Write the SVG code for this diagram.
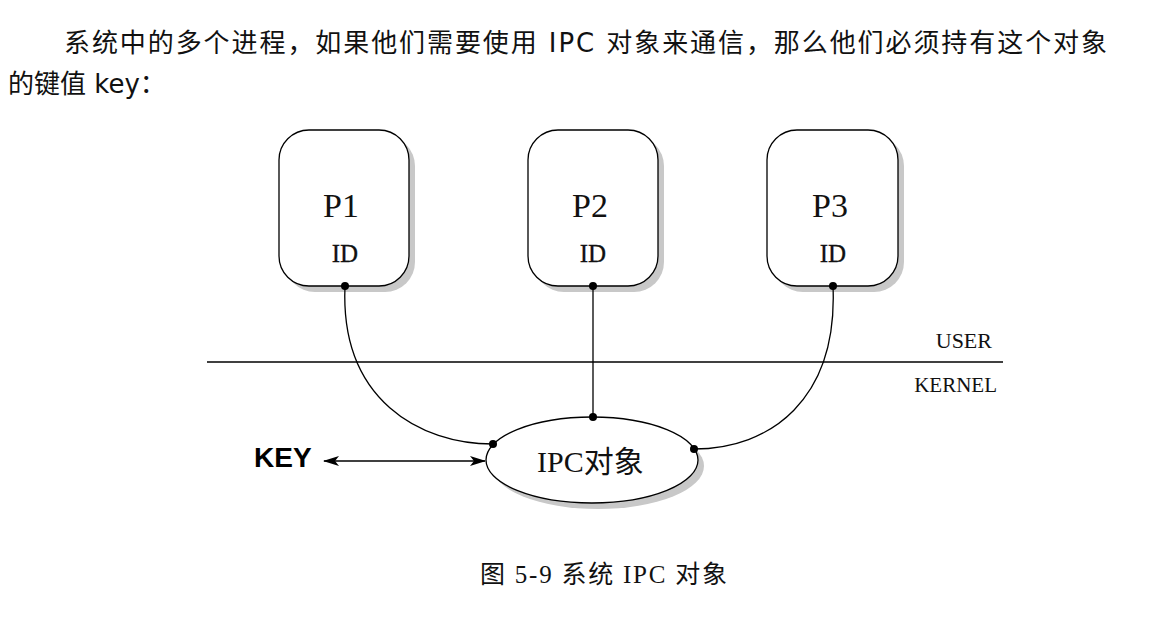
<svg xmlns="http://www.w3.org/2000/svg" width="1166" height="619" viewBox="0 0 1166 619">
<style>
.box{fill:#fff;stroke:#000;stroke-width:1.3}
.shadow{fill:#c8c8c8}
.conn{fill:none;stroke:#000;stroke-width:1.3}
.dot{fill:#000}
.serif{font-family:"Liberation Serif","Noto Sans CJK SC",serif;fill:#111}
.body{font-family:"DejaVu Sans","Noto Sans CJK SC",sans-serif;font-size:26px;fill:#111}
.id{font-family:"Liberation Serif",serif;font-size:25px;fill:#111;stroke:#111;stroke-width:0.3}
</style>
<defs>
<marker id="ah" viewBox="0 0 16 10" refX="15" refY="5" markerWidth="16" markerHeight="10" markerUnits="userSpaceOnUse" orient="auto-start-reverse">
<path d="M0,0 L16,5 L0,10 L4,5 Z" fill="#000"/>
</marker>
</defs>
<rect width="1166" height="619" fill="#fff"/>
<g id="intro">
<text class="body" x="64" y="52" textLength="1043" lengthAdjust="spacing">系统中的多个进程，如果他们需要使用 IPC 对象来通信，那么他们必须持有这个对象</text>
<text class="body" x="8" y="93">的键值 key：</text>
</g>
<g id="p1">
<rect class="shadow" x="285" y="136" width="130" height="156" rx="30"/>
<rect class="box" x="279" y="130" width="130" height="156" rx="30"/>
<text class="serif" x="341" y="217" font-size="34" text-anchor="middle">P1</text>
<text class="id" x="345" y="262" text-anchor="middle">ID</text>
</g>
<g id="p2">
<rect class="shadow" x="534" y="136" width="130" height="156" rx="30"/>
<rect class="box" x="528" y="130" width="130" height="156" rx="30"/>
<text class="serif" x="590" y="217" font-size="34" text-anchor="middle">P2</text>
<text class="id" x="593" y="262" text-anchor="middle">ID</text>
</g>
<g id="p3">
<rect class="shadow" x="773" y="136" width="131" height="156" rx="30"/>
<rect class="box" x="767" y="130" width="131" height="156" rx="30"/>
<text class="serif" x="830" y="217" font-size="34" text-anchor="middle">P3</text>
<text class="id" x="833" y="262" text-anchor="middle">ID</text>
</g>
<g id="ipc">
<ellipse class="shadow" cx="598" cy="466" rx="106" ry="43"/>
<ellipse class="box" cx="592" cy="460" rx="106" ry="43"/>
<text class="serif" x="537" y="472" font-size="30">IPC对象</text>
</g>
<g id="boundary">
<line x1="207" y1="362" x2="1003" y2="362" stroke="#000" stroke-width="1.6"/>
<text class="serif" x="992" y="348" font-size="22" text-anchor="end">USER</text>
<text class="serif" x="997" y="392" font-size="21" text-anchor="end">KERNEL</text>
</g>
<g id="key">
<text x="254" y="467" font-family="Liberation Sans,Arial,sans-serif" font-weight="bold" font-size="28" fill="#000">KEY</text>
</g>
<g id="connectors">
<path class="conn" d="M345,286 C340,400 420,444 493,444"/>
<line class="conn" x1="593" y1="286" x2="593" y2="417"/>
<path class="conn" d="M833,286 C838,400 770,449 694,449"/>
<line class="conn" x1="324" y1="461" x2="485" y2="461" marker-start="url(#ah)" marker-end="url(#ah)"/>
<circle class="dot" cx="345" cy="286" r="4"/>
<circle class="dot" cx="593" cy="286" r="4"/>
<circle class="dot" cx="833" cy="286" r="4"/>
<circle class="dot" cx="593" cy="417" r="4"/>
<circle class="dot" cx="493" cy="444" r="4"/>
<circle class="dot" cx="694" cy="449" r="4"/>
</g>
<g id="caption">
<text class="serif" x="480" y="583" font-size="25" textLength="247" lengthAdjust="spacing">图 5-9  系统 IPC 对象</text>
</g>
</svg>
